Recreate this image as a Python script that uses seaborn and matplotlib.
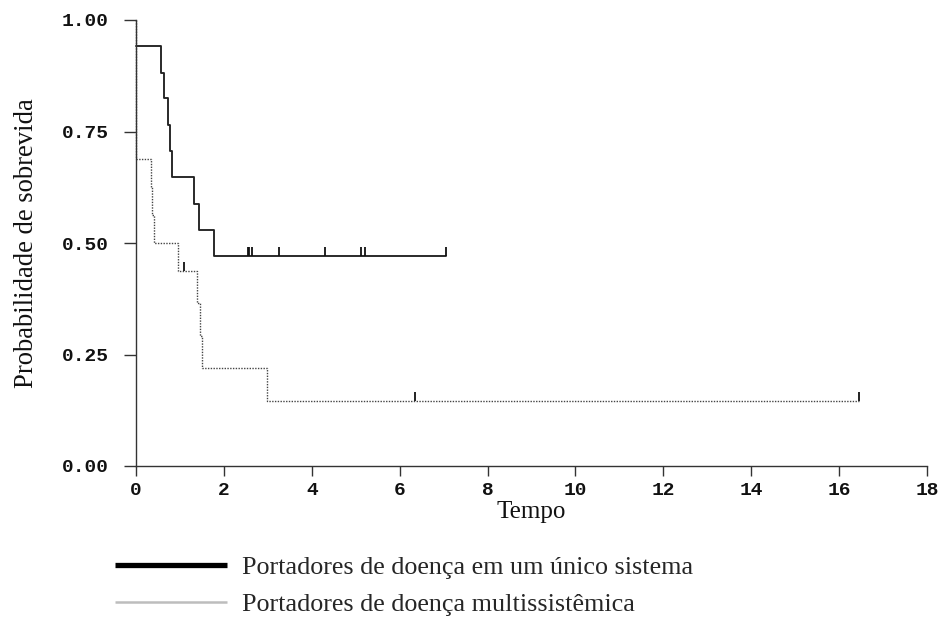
import matplotlib
matplotlib.use("Agg")
import matplotlib.pyplot as plt
from matplotlib.lines import Line2D
import seaborn as sns
import pandas as pd

# Kaplan-Meier step coordinates (time in years, survival probability)
single_times = [0.0, 0.58, 0.645, 0.735, 0.765, 0.83, 1.32, 1.43, 1.78, 7.05]
single_surv = [0.941, 0.882, 0.824, 0.765, 0.706, 0.647, 0.588, 0.529, 0.471, 0.471]
single_cens_times = [2.56, 2.58, 2.64, 3.26, 4.29, 5.11, 5.21, 7.05]
single_cens_surv = [0.471] * 8

multi_times = [0.0, 0.0, 0.34, 0.37, 0.42, 0.96, 1.38, 1.46, 1.51, 2.98, 16.45]
multi_surv = [1.0, 0.6875, 0.625, 0.5625, 0.5, 0.4375, 0.365, 0.292, 0.219, 0.146, 0.146]
multi_cens_times = [1.10, 6.35, 16.45]
multi_cens_surv = [0.4375, 0.146, 0.146]

x_ticks = [0, 2, 4, 6, 8, 10, 12, 14, 16, 18]
y_ticks = [0.0, 0.25, 0.5, 0.75, 1.0]
y_tick_labels = ["0.00", "0.25", "0.50", "0.75", "1.00"]

legend_labels = ["Portadores de doença em um único sistema",
                 "Portadores de doença multissistêmica"]

sns.set_style("ticks")
plt.rcParams["font.family"] = ["Liberation Serif", "DejaVu Serif"]

W, H = 940, 642
fig = plt.figure(figsize=(W / 100, H / 100), dpi=100)
ax = fig.add_axes([136 / W, (H - 466) / H, (927 - 136) / W, (466 - 20) / H])

single = pd.DataFrame({"t": single_times, "s": single_surv})
multi = pd.DataFrame({"t": multi_times, "s": multi_surv})

sns.lineplot(data=multi, x="t", y="s", ax=ax, estimator=None, sort=False,
             drawstyle="steps-post", color="#444444", linewidth=1.0,
             linestyle=(0, (1, 1)), clip_on=False)
sns.lineplot(data=single, x="t", y="s", ax=ax, estimator=None, sort=False,
             drawstyle="steps-post", color="#222222", linewidth=1.35,
             clip_on=False)

# censoring marks: short upward ticks
tick_marker = [(0, 0), (0, 1)]
sns.scatterplot(x=single_cens_times, y=single_cens_surv, ax=ax,
                marker=tick_marker, s=170, color="#111111",
                edgecolor="#111111", linewidth=1.3, clip_on=False, zorder=5)
sns.scatterplot(x=multi_cens_times, y=multi_cens_surv, ax=ax,
                marker=tick_marker, s=170, color="#111111",
                edgecolor="#111111", linewidth=1.3, clip_on=False, zorder=5)

ax.set_xlim(0, 18)
ax.set_ylim(0, 1)
ax.set_xticks(x_ticks)
ax.set_xticklabels([str(v) for v in x_ticks])
ax.set_yticks(y_ticks)
ax.set_yticklabels(y_tick_labels)

mono_family = ["Liberation Mono", "DejaVu Sans Mono"]
for lab in ax.get_xticklabels() + ax.get_yticklabels():
    lab.set_fontfamily(mono_family)
    lab.set_fontweight("bold")
    lab.set_fontsize(14)

for side in ("top", "right"):
    ax.spines[side].set_visible(False)
for side in ("left", "bottom"):
    ax.spines[side].set_color("#333333")
    ax.spines[side].set_linewidth(1.0)

ax.tick_params(axis="x", direction="out", length=7.5, width=1.0,
               color="#333333", pad=4, labelcolor="#111111")
ax.tick_params(axis="y", direction="out", length=8.5, width=1.0,
               color="#333333", pad=11, labelcolor="#111111")

ax.set_xlabel("Tempo", fontsize=18, color="#111111")
ax.set_ylabel("Probabilidade de sobrevida", fontsize=19.2, color="#111111")
ax.xaxis.set_label_coords(0.5, -0.078)
ax.yaxis.set_label_coords(-0.122, 0.5)

handles = [Line2D([], [], color="black", linewidth=3.8, solid_capstyle="butt"),
           Line2D([], [], color="#bdbdbd", linewidth=1.8, solid_capstyle="butt")]
fig.legend(handles, legend_labels, loc="upper left",
           bbox_to_anchor=(115 / W, (H - 556) / H), frameon=False,
           fontsize=18.8, handlelength=4.3, handletextpad=0.58,
           labelspacing=0.52, borderpad=0, borderaxespad=0)

fig.savefig("out.png", dpi=100, facecolor="white")
